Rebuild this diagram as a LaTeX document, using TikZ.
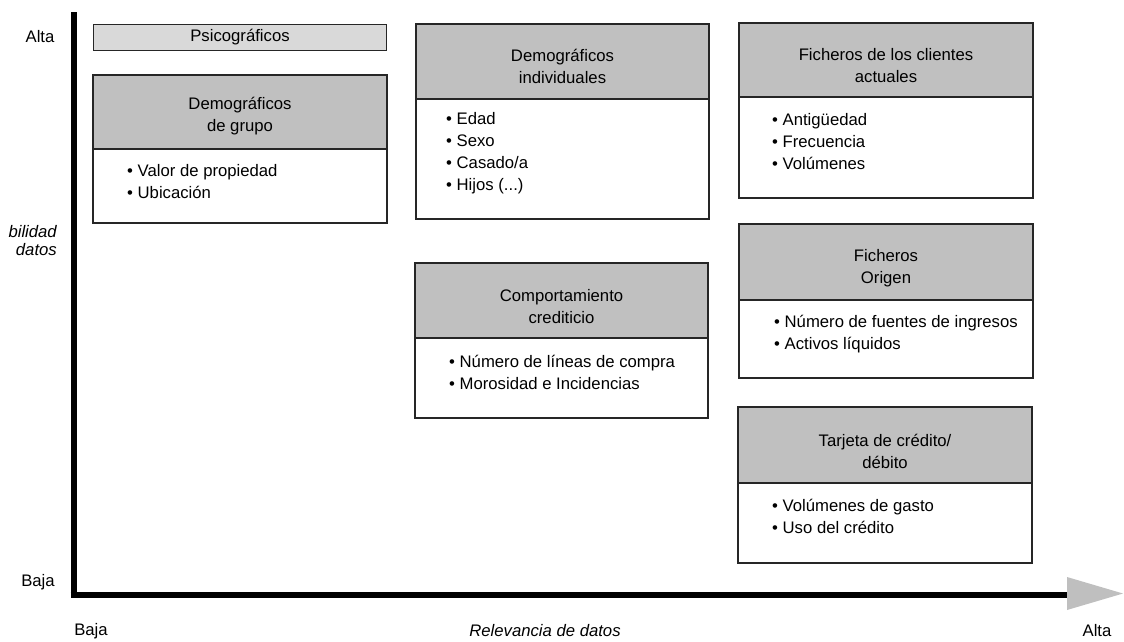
\documentclass[tikz,border=0pt]{standalone}
\usepackage{fontspec}
\setmainfont{Liberation Sans}
\usetikzlibrary{calc}
\definecolor{hdrgray}{HTML}{C0C0C0}
\definecolor{psigray}{HTML}{D9D9D9}
\definecolor{arrgray}{HTML}{BFBFBF}
\begin{document}
\begin{tikzpicture}[x=1pt,y=-1pt,
  frame/.style={draw=black!85,line width=1.3pt},
  bodybox/.style={frame,fill=white,anchor=north west,inner sep=0pt,outer sep=0pt},
  headbox/.style={frame,fill=hdrgray,anchor=north west,inner sep=0pt,outer sep=0pt},
  lbl/.style={font=\fontsize{16.7}{22}\selectfont,inner sep=0pt,text=black},
  htext/.style={lbl,align=center,anchor=center},
  btext/.style={lbl,align=left,anchor=west},
  axisline/.style={line width=6pt,black}]
\useasboundingbox (0,0) rectangle (1124,641);
% axes
\coordinate (ytop) at (73.5,12);
\coordinate (ybot) at (73.5,598);
\coordinate (xstart) at (70.5,595);
\coordinate (xend) at (1068,595);
\draw[axisline] (ytop) -- (ybot);
\draw[axisline] (xstart) -- (xend);
\fill[arrgray] (1067,577) -- (1123,593.5) -- (1067,610) -- cycle;
% axis labels
\node[lbl,anchor=center] (yalta) at (40,37) {Alta};
\node[lbl,anchor=center] (ybaja) at (38,582) {Baja};
\node[lbl,anchor=east,align=right,font=\fontsize{16.7}{18}\selectfont\itshape] (ytitle) at (57,241) {bilidad\\datos};
\node[lbl,anchor=center] (xbaja) at (91,631) {Baja};
\node[lbl,anchor=center,font=\fontsize{16.7}{22}\selectfont\itshape] (xtitle) at (545,631) {Relevancia de datos};
\node[lbl,anchor=center] (xalta) at (1097,631) {Alta};
% Psicograficos
\node[frame,fill=psigray,anchor=north west,inner sep=0pt,minimum width=293pt,minimum height=26pt] (psi) at (93,24) {};
\node[htext] (psit) at (240,37) {Psicográficos};
% Demograficos de grupo
\node[bodybox,minimum width=294pt,minimum height=148pt] (dg) at (93,75) {};
\node[headbox,minimum width=294pt,minimum height=74pt] (dgh) at (93,75) {};
\node[htext] (dght) at (240,116.5) {Demográficos\\de grupo};
\node[btext] (dgb) at (127,181.5) {\textbullet\ Valor de propiedad\\\textbullet\ Ubicación};
% Demograficos individuales
\node[bodybox,minimum width=293pt,minimum height=195pt] (di) at (416,24) {};
\node[headbox,minimum width=293pt,minimum height=75pt] (dih) at (416,24) {};
\node[htext] (diht) at (562.5,66) {Demográficos\\individuales};
\node[btext] (dib) at (446,153.5) {\textbullet\ Edad\\\textbullet\ Sexo\\\textbullet\ Casado/a\\\textbullet\ Hijos (...)};
% Comportamiento crediticio
\node[bodybox,minimum width=293pt,minimum height=155pt] (cc) at (415,263) {};
\node[headbox,minimum width=293pt,minimum height=75pt] (cch) at (415,263) {};
\node[htext] (ccht) at (561.5,307) {Comportamiento\\crediticio};
\node[btext] (ccb) at (449,372.5) {\textbullet\ Número de líneas de compra\\\textbullet\ Morosidad e Incidencias};
% Ficheros de los clientes actuales
\node[bodybox,minimum width=294pt,minimum height=175pt] (fc) at (739,23) {};
\node[headbox,minimum width=294pt,minimum height=74pt] (fch) at (739,23) {};
\node[htext] (fcht) at (886,66) {Ficheros de los clientes\\actuales};
\node[btext] (fcb) at (772,142) {\textbullet\ Antigüedad\\\textbullet\ Frecuencia\\\textbullet\ Volúmenes};
% Ficheros Origen
\node[bodybox,minimum width=294pt,minimum height=154pt] (fo) at (739,224) {};
\node[headbox,minimum width=294pt,minimum height=76pt] (foh) at (739,224) {};
\node[htext] (foht) at (886,268.5) {Ficheros\\Origen};
\node[btext] (fob) at (774,334) {\textbullet\ Número de fuentes de ingresos\\\textbullet\ Activos líquidos};
% Tarjeta de credito/debito
\node[bodybox,minimum width=294pt,minimum height=156pt] (tc) at (738,407) {};
\node[headbox,minimum width=294pt,minimum height=76pt] (tch) at (738,407) {};
\node[htext] (tcht) at (885,451) {Tarjeta de crédito/\\débito};
\node[btext] (tcb) at (772,516) {\textbullet\ Volúmenes de gasto\\\textbullet\ Uso del crédito};
\end{tikzpicture}
\end{document}
